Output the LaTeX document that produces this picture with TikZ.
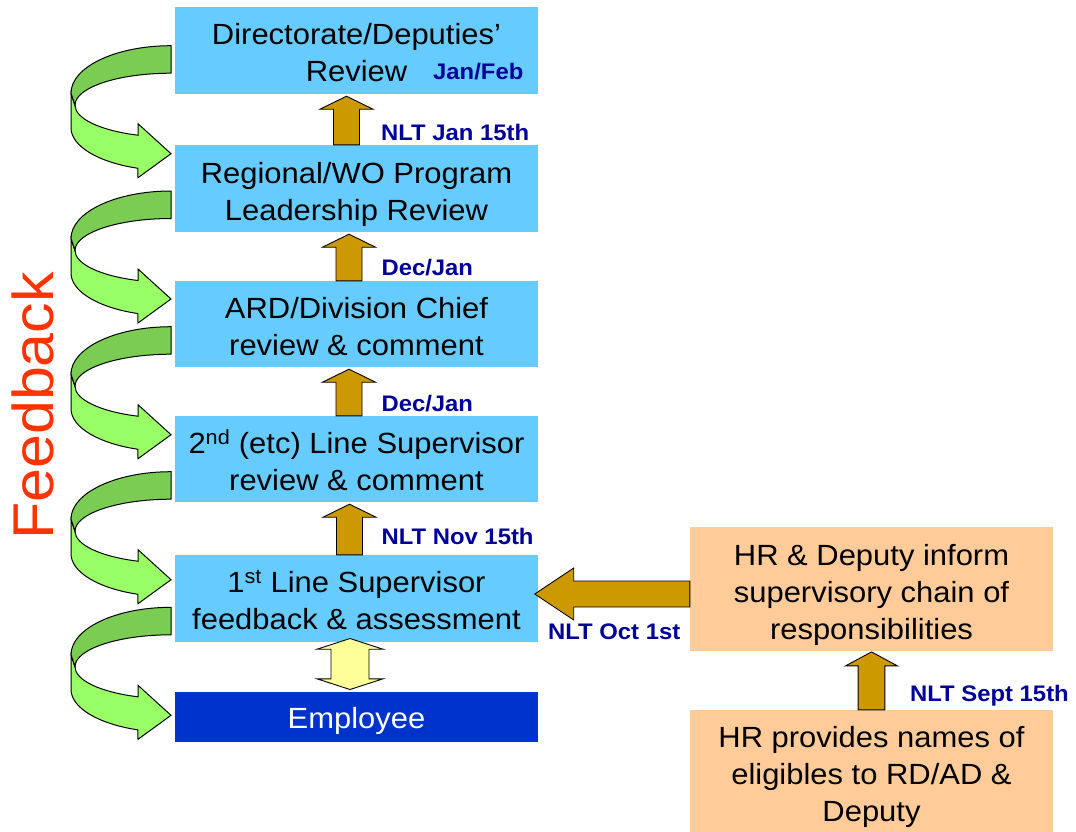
\documentclass[tikz,border=0pt]{standalone}
\usepackage{fontspec}
\setmainfont[FakeStretch=1.06]{Liberation Sans}
\usetikzlibrary{calc}
\definecolor{boxblue}{HTML}{66CCFF}
\definecolor{empblue}{HTML}{0033CC}
\definecolor{hrorange}{HTML}{FFCC99}
\definecolor{goldfill}{HTML}{CC9900}
\definecolor{paleyellow}{HTML}{FFFF99}
\definecolor{lgreen}{HTML}{99FF66}
\definecolor{dgreen}{HTML}{7ACC52}
\definecolor{navylab}{HTML}{000099}
\definecolor{fbred}{HTML}{FF3300}
\newcommand\firstline[1]{\smash{#1}\rule{0pt}{26pt}}
\newcommand\fbarrow[1]{%
  \filldraw[lgreen,draw=black,line width=1pt,line join=miter]
    (71,-#1-47.5) -- (71,-#1-82)
    arc[start angle=180,end angle=250.7,x radius=100,y radius=43]
    -- (138,-#1-132) -- (171,-#1-108) -- (138,-#1-78) -- (138,-#1-89.5)
    arc[start angle=249.9,end angle=180,x radius=96,y radius=32] -- cycle;
  \filldraw[dgreen,draw=black,line width=1pt,line join=miter]
    (171,-#1) arc[start angle=90,end angle=180,x radius=100,y radius=47.5]
    -- (75,-#1-59.5)
    arc[start angle=180,end angle=90,x radius=96,y radius=32] -- cycle;
}
\newcommand\uparr[3]{%
  \draw[goldarrow] let \p1=(#1), \p2=(#2) in
    (#3pt-13pt,\y1) -- (#3pt+13pt,\y1) -- (#3pt+13pt,\y2-15pt) -- (#3pt+26.5pt,\y2-15pt)
    -- (#3pt,\y2-2pt) -- (#3pt-26.5pt,\y2-15pt) -- (#3pt-13pt,\y2-15pt) -- cycle;
}
\begin{document}
\begin{tikzpicture}[x=1pt,y=1pt,
  boxtext/.style={font=\fontsize{29.2}{37}\selectfont, align=center, inner sep=0pt},
  bluebox/.style={boxtext, fill=boxblue, minimum width=363pt},
  hrbox/.style={boxtext, fill=hrorange, minimum width=363pt},
  datelabel/.style={font=\fontsize{22.5}{27}\selectfont\bfseries, text=navylab, inner sep=0pt, anchor=west, text height=16.1pt, text depth=0pt},
  goldarrow/.style={fill=goldfill, draw=black, line width=0.9pt, line join=miter}]
\fill[white] (0,0) rectangle (1076,-831);
\useasboundingbox (0,0) rectangle (1076,-831);

% feedback arrows
\fbarrow{45.7}
\fbarrow{191}
\fbarrow{326.7}
\fbarrow{471.7}
\fbarrow{607.3}

\node[rotate=90, font=\fontsize{57.5}{60}\selectfont, text=fbred, inner sep=0pt] (fb) at (32.5,-406) {Feedback};

% boxes
\node[bluebox, minimum height=87pt] (dir) at (356.5,-50.5) {\firstline{Directorate/Deputies’}\\Review};
\node[bluebox, minimum height=87pt] (reg) at (356.5,-188.5) {\firstline{Regional/WO Program}\\\smash{Leadership Review}};
\node[bluebox, minimum height=86pt] (ard) at (356.5,-324) {\firstline{ARD/Division Chief}\\review \& comment};
\node[bluebox, minimum height=86pt] (sec) at (356.5,-459) {\firstline{2\textsuperscript{nd} (etc) Line Supervisor}\\review \& comment};
\node[bluebox, minimum height=87pt] (fst) at (356.5,-598.5) {\firstline{1\textsuperscript{st} Line Supervisor}\\feedback \& assessment};
\node[boxtext, fill=empblue, text=white, minimum width=363pt, minimum height=49.5pt, text height=23pt, text depth=0pt] (emp) at (356.5,-716.75) {Employee};
\node[hrbox, minimum height=124pt] (hri) at (871.5,-589) {\firstline{HR \& Deputy inform}\\supervisory chain of\\\smash{responsibilities}};
\node[hrbox, minimum height=123pt] (hrp) at (871.5,-771.5) {\firstline{HR provides names of}\\eligibles to RD/AD \&\\\smash{Deputy}};

% gold arrows
\uparr{reg.north}{dir.south}{346.5}
\uparr{ard.north}{reg.south}{349}
\uparr{sec.north}{ard.south}{349}
\uparr{fst.north}{sec.south}{349.5}
\draw[goldarrow] let \p1=(hrp.north), \p2=(hri.south) in
  (\x1-13.4pt,\y1) -- (\x1+13.4pt,\y1) -- (\x1+13.4pt,\y2-14.7pt) -- (\x1+26pt,\y2-14.7pt)
  -- (\x1,\y2-0.7pt) -- (\x1-26pt,\y2-14.7pt) -- (\x1-13.4pt,\y2-14.7pt) -- cycle;
\draw[goldarrow] let \p1=(hri.west), \p2=(fst.east) in
  (\x1,-581pt) -- (\x2+35.5pt,-581pt) -- (\x2+35.5pt,-568pt) -- (\x2-3.5pt,-594pt)
  -- (\x2+35.5pt,-620pt) -- (\x2+35.5pt,-607pt) -- (\x1,-607pt) -- cycle;
\draw[fill=paleyellow, draw=black, line width=0.9pt, line join=miter] let \p1=(fst.south), \p2=(emp.north) in
  (350pt,\y1+3.7pt) -- (383pt,\y1-7pt) -- (369pt,\y1-7pt) -- (369pt,\y2+13pt) -- (383pt,\y2+13pt)
  -- (350pt,\y2+2.3pt) -- (317pt,\y2+13pt) -- (331pt,\y2+13pt) -- (331pt,\y1-7pt) -- (317pt,\y1-7pt) -- cycle;

% labels
\node[datelabel] (lf) at (433,-71.2) {Jan/Feb};
\node[datelabel] (l1) at (381,-132.3) {NLT Jan 15th};
\node[datelabel] (l2) at (381.4,-267.5) {Dec/Jan};
\node[datelabel] (l3) at (381.4,-403) {Dec/Jan};
\node[datelabel] (l4) at (381.4,-536.5) {NLT Nov 15th};
\node[datelabel] (lo) at (548,-631.3) {NLT Oct 1st};
\node[datelabel] (ls) at (910,-693.3) {NLT Sept 15th};
\end{tikzpicture}
\end{document}
